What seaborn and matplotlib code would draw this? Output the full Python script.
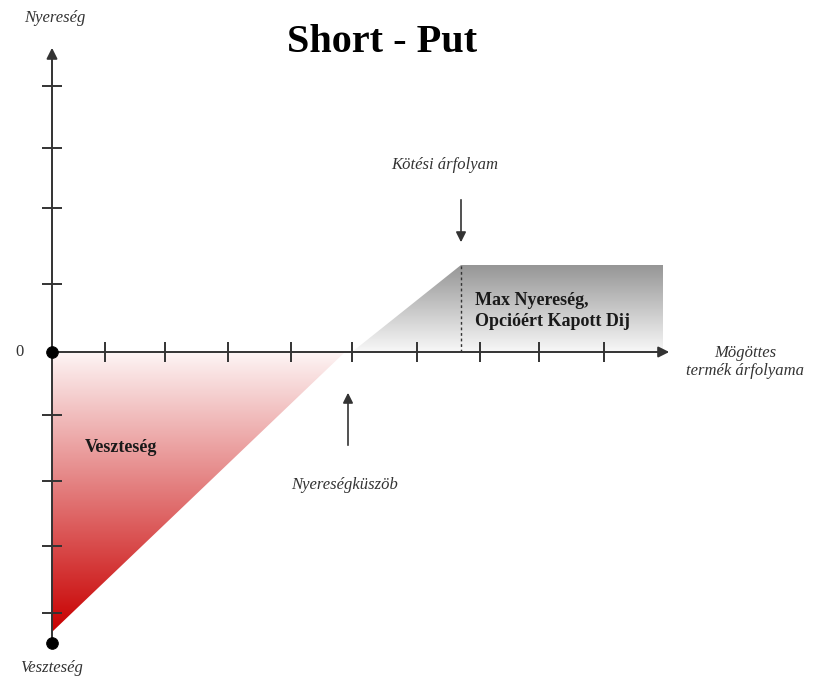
import numpy as np
import pandas as pd
import seaborn as sns
import matplotlib.pyplot as plt
from matplotlib.patches import Polygon
from matplotlib.colors import to_rgb

# Alakzatok (1 egység = 10 px a képen)
loss_x = [0, 29.3, 0]
loss_y = [0, 0, -28.0]
gain_x = [30.0, 40.9, 61.1, 61.1]
gain_y = [0, 8.7, 8.7, 0]
strike = 40.9
premium = 8.7
breakeven = 29.6

x_ticks = [5.3, 11.3, 17.6, 23.9, 30.0, 36.5, 42.8, 48.7, 55.2]
y_ticks = [6.8, 14.4, 20.4, 26.6, -6.3, -12.9, -19.4, -26.1]
x_end = 62.0
y_top = 30.7
y_bottom = -29.1

sns.set_style("white")
plt.rcParams['font.family'] = ['Liberation Serif', 'DejaVu Serif']

fig = plt.figure(figsize=(8.19, 6.80), dpi=100)
ax = fig.add_axes([0, 0, 1, 1])
ax.set_xlim(-5.2, 76.7)
ax.set_ylim(-32.8, 35.2)
ax.axis('off')


def gradient_fill(ax, xs, ys, top_color, bottom_color):
    poly = Polygon(np.column_stack([xs, ys]), closed=True, facecolor='none', edgecolor='none')
    ax.add_patch(poly)
    top = np.array(to_rgb(top_color))
    bot = np.array(to_rgb(bottom_color))
    t = np.linspace(0, 1, 256)[:, None]
    img = (bot * (1 - t) + top * t)[:, None, :]
    im = ax.imshow(img, extent=[min(xs), max(xs), min(ys), max(ys)],
                   origin='lower', aspect='auto', zorder=1, interpolation='bilinear')
    im.set_clip_path(poly)


gradient_fill(ax, loss_x, loss_y, '#fdf4f4', '#c80000')
gradient_fill(ax, gain_x, gain_y, '#969696', '#f8f8f8')

# tengelyek
axis_col = '#333333'
ax.annotate('', xy=(x_end, 0), xytext=(0, 0),
            arrowprops=dict(arrowstyle='-|>', color=axis_col, lw=1.4, mutation_scale=16), zorder=3)
ax.annotate('', xy=(0, y_top), xytext=(0, y_bottom),
            arrowprops=dict(arrowstyle='-|>', color=axis_col, lw=1.4, mutation_scale=16), zorder=3)
ax.vlines(x_ticks, -1.0, 1.0, color=axis_col, lw=1.4, zorder=3)
ax.hlines(y_ticks, -1.0, 1.0, color=axis_col, lw=1.4, zorder=3)

pts = pd.DataFrame({'x': [0, 0], 'y': [0, y_bottom]})
sns.scatterplot(data=pts, x='x', y='y', ax=ax, color='black', s=70, edgecolor='black', zorder=4)

ax.vlines(strike, 0, premium, color='#333333', lw=1, linestyles=(0, (2, 2)), zorder=3)

# nyilak
ax.annotate('', xy=(strike, 10.7), xytext=(strike, 15.5),
            arrowprops=dict(arrowstyle='-|>', color=axis_col, lw=1.2, mutation_scale=15))
ax.annotate('', xy=(breakeven, -3.8), xytext=(breakeven, -9.6),
            arrowprops=dict(arrowstyle='-|>', color=axis_col, lw=1.2, mutation_scale=15))

# szövegek
txt = '#333333'
ax.text(33.0, 31.0, 'Short - Put', fontsize=29, fontweight='bold', ha='center', va='center', color='#000000')
ax.text(0.3, 33.4, 'Nyereség', fontsize=12, style='italic', ha='center', va='center', color=txt)
ax.text(-3.2, 0, '0', fontsize=12, ha='center', va='center', color=txt)
ax.text(0.0, -31.6, 'Veszteség', fontsize=12, style='italic', ha='center', va='center', color=txt)
ax.text(39.3, 18.7, 'Kötési árfolyam', fontsize=12, style='italic', ha='center', va='center', color=txt)
ax.text(42.3, 4.1, 'Max Nyereség,\nOpcióért Kapott Dij', fontsize=13, fontweight='bold',
        ha='left', va='center', color='#1a1a1a', linespacing=1.3)
ax.text(69.3, -1.0, 'Mögöttes\ntermék árfolyama', fontsize=12, style='italic',
        ha='center', va='center', color=txt, linespacing=1.1)
ax.text(29.3, -13.3, 'Nyereségküszöb', fontsize=12, style='italic', ha='center', va='center', color=txt)
ax.text(3.3, -9.5, 'Veszteség', fontsize=13, fontweight='bold', ha='left', va='center', color='#1a1a1a')

fig.savefig('out.png', dpi=100)
